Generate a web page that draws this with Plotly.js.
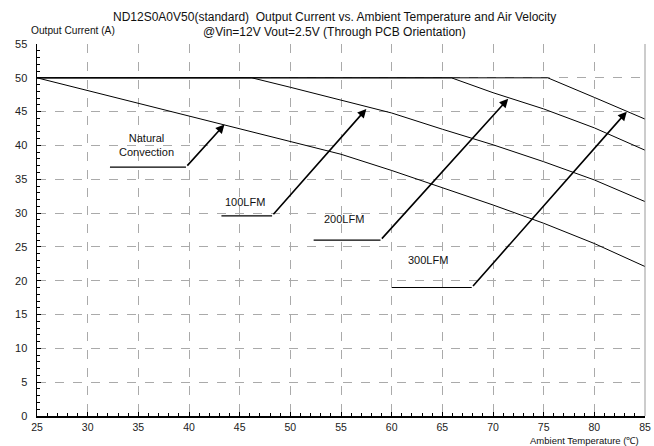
<!DOCTYPE html>
<html><head><meta charset="utf-8">
<script src="https://cdn.plot.ly/plotly-3.0.1.min.js"></script>
<style>html,body{margin:0;padding:0;background:#fff;}#chart{width:654px;height:446px;}</style>
</head><body><div id="chart"></div>
<script>
// Derating curves (Ambient temperature °C vs. output current A)
const ncTemp   = [25, 30, 35, 40, 45, 50, 55, 60, 65, 70, 75, 80, 85];
const ncCurr   = [50, 48.1, 46.3, 44.4, 42.5, 40.6, 38.7, 36.3, 33.8, 31.2, 28.5, 25.5, 22.1];
const l100Temp = [25, 46.2, 50, 55, 60, 65, 70, 75, 80, 85];
const l100Curr = [50, 50, 48.6, 46.7, 44.8, 42.4, 40.1, 37.6, 34.9, 31.7];
const l200Temp = [25, 65.9, 70, 75, 80, 85];
const l200Curr = [50, 50, 47.8, 45.4, 42.6, 39.3];
const l300Temp = [25, 75.4, 80, 85];
const l300Curr = [50, 50, 47.1, 43.9];

// Label callouts: text, text position, underline start, arrow tail, arrow tip
const labelTexts = ['Natural<br>Convection', '100LFM', '200LFM', '300LFM'];
const labelX     = [35.8, 45.5, 55.3, 63.6];
const labelY     = [40.1, 31.7, 29.2, 23.1];
const lineStartX = [32.2, 43.2, 52.3, 60.0];
const tailX      = [39.7, 48.2, 58.9, 67.9];
const tailY      = [36.8, 29.6, 26.0, 19.0];
const tipX       = [43.5, 57.5, 71.5, 83.2];
const tipY       = [43.1, 45.4, 46.9, 45.0];

const xTicks = [25,30,35,40,45,50,55,60,65,70,75,80,85];
const yTicks = [0,5,10,15,20,25,30,35,40,45,50,55];

const FONT = 'Liberation Sans, Arial, sans-serif';
const mk = (x, y) => ({x, y, mode:'lines', type:'scatter', line:{color:'#000', width:1}, hoverinfo:'skip', showlegend:false});
const traces = [mk(ncTemp, ncCurr), mk(l100Temp, l100Curr), mk(l200Temp, l200Curr), mk(l300Temp, l300Curr)];

const shapes = [];
const annotations = [];
for (let i = 0; i < labelTexts.length; i++) {
  shapes.push({type:'line', xref:'x', yref:'y', x0:lineStartX[i], y0:tailY[i], x1:tailX[i], y1:tailY[i], line:{color:'#000', width:1.2}});
  annotations.push({x:tipX[i], y:tipY[i], ax:tailX[i], ay:tailY[i], xref:'x', yref:'y', axref:'x', ayref:'y', text:'', showarrow:true, arrowhead:2, arrowsize:1.1, arrowwidth:1.6, arrowcolor:'#000'});
  annotations.push({x:labelX[i], y:labelY[i], xref:'x', yref:'y', text:labelTexts[i], showarrow:false, font:{family:FONT, size:11, color:'#111'}});
}
// right border
shapes.push({type:'line', xref:'paper', yref:'paper', x0:1, x1:1, y0:0, y1:1, line:{color:'#999', width:1}});

annotations.push({xref:'paper', yref:'paper', x:0.49, y:1, yshift:27, xanchor:'center', yanchor:'middle', showarrow:false,
  text:'ND12S0A0V50(standard)  Output Current vs. Ambient Temperature and Air Velocity', font:{family:FONT, size:12, color:'#111'}});
annotations.push({xref:'paper', yref:'paper', x:0.49, y:1, yshift:12, xanchor:'center', yanchor:'middle', showarrow:false,
  text:'@Vin=12V Vout=2.5V (Through PCB Orientation)', font:{family:FONT, size:12, color:'#111'}});
annotations.push({xref:'paper', yref:'paper', x:0, xshift:-8, y:1, yshift:14, xanchor:'left', yanchor:'middle', showarrow:false,
  text:'Output Current (A)', font:{family:FONT, size:10.2, color:'#111'}});
annotations.push({xref:'paper', yref:'paper', x:1, xshift:-4, y:0, yshift:-24, xanchor:'right', yanchor:'middle', showarrow:false,
  text:'Ambient Temperature (℃)', font:{family:FONT, size:9.5, color:'#111'}});

const layout = {
  width:654, height:446,
  margin:{l:37, r:9, t:44, b:30},
  paper_bgcolor:'#fff', plot_bgcolor:'#fff',
  font:{family:FONT, size:11, color:'#111'},
  xaxis:{range:[25,85], tickvals:xTicks, ticktext:xTicks.map(String), showline:true, linecolor:'#000', linewidth:1.5,
    ticks:'inside', ticklen:4, tickcolor:'#000', showgrid:true, gridcolor:'#aaa', griddash:'dash', gridwidth:1, zeroline:false,
    ticklabelstandoff:1,
    minor:{dtick:1, ticks:'inside', ticklen:3, tickcolor:'#000', showgrid:false}, tickfont:{family:FONT, size:10.5, color:'#222'}, fixedrange:true},
  yaxis:{range:[0,55], tickvals:yTicks, ticktext:yTicks.map(String), showline:true, linecolor:'#000', linewidth:1.5,
    ticks:'inside', ticklen:4, tickcolor:'#000', showgrid:true, gridcolor:'#aaa', griddash:'dash', gridwidth:1, zeroline:false,
    ticklabelstandoff:6,
    minor:{dtick:1, ticks:'inside', ticklen:3, tickcolor:'#000', showgrid:false}, tickfont:{family:FONT, size:11, color:'#222'}, fixedrange:true},
  shapes, annotations
};
Plotly.newPlot('chart', traces, layout, {displayModeBar:false, staticPlot:true});
</script></body></html>
